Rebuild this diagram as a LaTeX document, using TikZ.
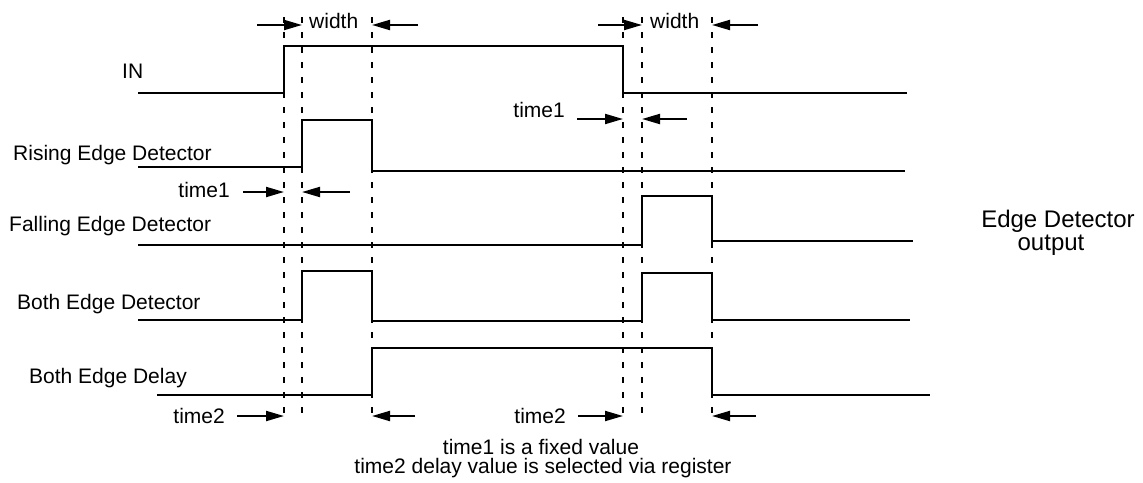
\documentclass[tikz,border=0pt]{standalone}
\usepackage{fontspec}
\setmainfont{Liberation Sans}
\usetikzlibrary{arrows.meta, positioning}

\begin{document}
\begin{tikzpicture}[x=1pt, y=-1pt,
  every node/.style={font=\fontsize{21}{24}\selectfont, inner sep=0pt},
  wave/.style={line width=2.6pt},
  guide/.style={line width=2pt, dash pattern=on 6pt off 9pt},
  dim/.style={line width=2pt, -{Triangle[length=18pt,width=10pt]}}]

  \useasboundingbox (0,0) rectangle (1143,482);

  % guide lines
  \coordinate (g1) at (284,0);
  \coordinate (g2) at (302,0);
  \coordinate (g3) at (372,0);
  \coordinate (g4) at (623,0);
  \coordinate (g5) at (642,0);
  \coordinate (g6) at (712,0);
  \foreach \gx in {284,302,372,623,642,712}
    \draw[guide] (\gx,17) -- (\gx,418);

  % signal names
  \node (sig_in)    [anchor=base west] at (122,78)  {IN};
  \node (sig_rise)  [anchor=base west] at (13,160)  {Rising Edge Detector};
  \node (sig_fall)  [anchor=base west] at (9,231)   {Falling Edge Detector};
  \node (sig_both)  [anchor=base west] at (17,309)  {Both Edge Detector};
  \node (sig_delay) [anchor=base west] at (29,383)  {Both Edge Delay};

  % waveforms
  \draw[wave] (138,93) -- (284,93) -- (284,46) -- (623,46) -- (623,93) -- (907,93);
  \draw[wave] (138,167) -- (302,167) -- (302,120) -- (372,120) -- (372,171) -- (905,171);
  \draw[wave] (138,245) -- (642,245) -- (642,196) -- (712,196) -- (712,241) -- (913,241);
  \draw[wave] (138,320) -- (302,320) -- (302,271) -- (372,271) -- (372,321)
    -- (642,321) -- (642,273) -- (712,273) -- (712,320) -- (910,320);
  \draw[wave] (157,395) -- (372,395) -- (372,348) -- (712,348) -- (712,395) -- (930,395);

  % width marks
  \node (lbl_width_a) [anchor=base west] at (309,28) {width};
  \node (lbl_width_b) [anchor=base west] at (650,28) {width};
  \coordinate (w1) at (257,25);
  \coordinate (w2) at (418,25);
  \coordinate (w3) at (598,25);
  \coordinate (w4) at (758,25);
  \draw[dim] (w1) -- (w1 -| g2);
  \draw[dim] (w2) -- (w2 -| g3);
  \draw[dim] (w3) -- (w3 -| g5);
  \draw[dim] (w4) -- (w4 -| g6);

  % time1 marks
  \node (lbl_time1_a) [anchor=base east] at (230,197) {time1};
  \node (lbl_time1_b) [anchor=base east] at (565,117) {time1};
  \coordinate (t1) at (243,192);
  \coordinate (t2) at (350,192);
  \coordinate (t3) at (577,119);
  \coordinate (t4) at (687,119);
  \draw[dim] (t1) -- (t1 -| g1);
  \draw[dim] (t2) -- (t2 -| g2);
  \draw[dim] (t3) -- (t3 -| g4);
  \draw[dim] (t4) -- (t4 -| g5);

  % time2 marks
  \node (lbl_time2_a) [anchor=base east] at (225,423) {time2};
  \node (lbl_time2_b) [anchor=base east] at (566,423) {time2};
  \coordinate (d1) at (237,416);
  \coordinate (d2) at (415,416);
  \coordinate (d3) at (578,416);
  \coordinate (d4) at (756,416);
  \draw[dim] (d1) -- (d1 -| g1);
  \draw[dim] (d2) -- (d2 -| g3);
  \draw[dim] (d3) -- (d3 -| g4);
  \draw[dim] (d4) -- (d4 -| g6);

  % notes
  \node (note_fixed) [anchor=base] at (541,454) {time1 is a fixed value};
  \node (note_reg)   [anchor=base] at (543,473) {time2 delay value is selected via register};
  \node (out_title)  [anchor=base, font=\fontsize{24}{27}\selectfont] at (1058,227) {Edge Detector};
  \node (out_sub)    [anchor=base, font=\fontsize{24}{27}\selectfont] at (1051,250) {output};
\end{tikzpicture}
\end{document}
